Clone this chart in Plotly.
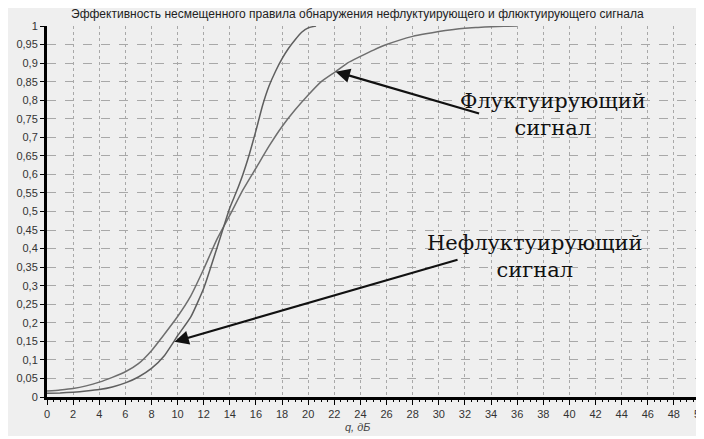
import plotly.graph_objects as go

# --- data ---
q_nonfluct = [0, 1, 2, 3, 4, 5, 6, 7, 8, 9, 9.76, 10, 11, 12, 13, 14, 14.5, 15, 15.5, 16, 16.5, 17, 17.5, 18, 18.5, 19, 19.5, 20, 20.6]
p_nonfluct = [0.010, 0.011, 0.013, 0.016, 0.020, 0.027, 0.038, 0.054, 0.077, 0.112, 0.152, 0.165, 0.215, 0.293, 0.400, 0.510, 0.553, 0.600, 0.655, 0.718, 0.785, 0.838, 0.878, 0.912, 0.940, 0.963, 0.983, 0.995, 1.000]

q_fluct = [0, 1, 2, 3, 4, 5, 6, 7, 8, 9, 10, 11, 12, 13, 14, 15, 16, 17, 18, 19, 20, 21, 22.1, 23, 24, 25, 26, 27, 28, 29, 30, 31, 32, 33, 34, 35, 36]
p_fluct = [0.016, 0.019, 0.023, 0.030, 0.040, 0.053, 0.068, 0.090, 0.125, 0.170, 0.217, 0.272, 0.345, 0.424, 0.490, 0.558, 0.617, 0.676, 0.729, 0.774, 0.814, 0.850, 0.877, 0.900, 0.918, 0.935, 0.950, 0.962, 0.972, 0.979, 0.985, 0.990, 0.994, 0.996, 0.998, 0.999, 1.000]

x_tick_vals = list(range(0, 51, 2))
x_tick_text = [str(v) for v in x_tick_vals]
y_tick_vals = [i * 0.05 for i in range(21)]
y_tick_text = ["0", "0,05", "0,1", "0,15", "0,2", "0,25", "0,3", "0,35", "0,4", "0,45", "0,5",
               "0,55", "0,6", "0,65", "0,7", "0,75", "0,8", "0,85", "0,9", "0,95", "1"]

title_text = "Эффективность несмещенного правила обнаружения нефлуктуирующего и флюктуирующего сигнала"
x_title = "q, дБ"

# arrows: (tip x, tip y, tail x, tail y)
arrow_fluct = (22.1, 0.877, 33.2, 0.763)
arrow_nonfluct = (9.76, 0.149, 31.55, 0.371)
label_fluct = "Флуктуирующий<br>сигнал"
label_nonfluct = "Нефлуктуирующий<br>сигнал"

BG = "#efefef"
SERIF = "DejaVu Serif"
SANS = "Liberation Sans, Arial, sans-serif"

# the page shows the figure with an 8 px body offset; positions below are screen pixels
OFF = 8
W, H = 704, 428
plot_left, plot_right, plot_top, plot_bottom = 47, 700, 26, 397
ml = plot_left - OFF
mt = plot_top - OFF
mr = W - (plot_right - OFF)
mb = H - (plot_bottom - OFF)
pw, ph = W - ml - mr, H - mt - mb


def px_to_paper(xs, ys):
    xf, yf = xs - OFF, ys - OFF
    return (xf - ml) / pw, 1 - (yf - mt) / ph


fig = go.Figure()
fig.add_trace(go.Scatter(x=q_fluct, y=p_fluct, mode="lines", line_shape="spline",
                         line=dict(color="#6e6e6e", width=1.5, smoothing=0.5), showlegend=False))
fig.add_trace(go.Scatter(x=q_nonfluct, y=p_nonfluct, mode="lines", line_shape="spline",
                         line=dict(color="#5e5e5e", width=1.5, smoothing=0.5), showlegend=False))

for tx, ty, sx, sy in (arrow_fluct, arrow_nonfluct):
    fig.add_annotation(x=tx, y=ty, ax=sx, ay=sy, xref="x", yref="y", axref="x", ayref="y",
                       showarrow=True, arrowhead=2, arrowsize=1.3, arrowwidth=2.2,
                       arrowcolor="#111111", text="", standoff=0)

lx, ly = px_to_paper(553, 114)
fig.add_annotation(x=lx, y=ly, xref="paper", yref="paper", text=label_fluct, showarrow=False,
                   font=dict(family=SERIF, size=21, color="#111111"), align="center",
                   xanchor="center", yanchor="middle")
lx, ly = px_to_paper(535, 256)
fig.add_annotation(x=lx, y=ly, xref="paper", yref="paper", text=label_nonfluct, showarrow=False,
                   font=dict(family=SERIF, size=21, color="#111111"), align="center",
                   xanchor="center", yanchor="middle")

# x-axis title placed as text
lx, ly = px_to_paper(357, 427)
fig.add_annotation(x=lx, y=ly, xref="paper", yref="paper", text="<i>" + x_title + "</i>",
                   showarrow=False, font=dict(family=SANS, size=11, color="#444444"),
                   xanchor="center", yanchor="middle")

# title placed as text
lx, ly = px_to_paper(357, 14)
fig.add_annotation(x=lx, y=ly, xref="paper", yref="paper", text=title_text,
                   showarrow=False, font=dict(family=SANS, size=12, color="#222222"),
                   xanchor="center", yanchor="middle")

fig.update_layout(
    width=W, height=H,
    margin=dict(l=ml, r=mr, t=mt, b=mb, autoexpand=False),
    paper_bgcolor=BG,
    plot_bgcolor=BG,
    font=dict(family=SANS, size=11, color="#333333"),
    xaxis=dict(range=[0, 50], tickvals=x_tick_vals, ticktext=x_tick_text, automargin=False,
               showgrid=True, gridcolor="#a8a8a8", griddash="dot", gridwidth=1,
               showline=True, linecolor="#000000", linewidth=3,
               ticks="outside", ticklen=5, tickcolor="#000000",
               minor=dict(dtick=0.5, ticks="outside", ticklen=2, tickcolor="#000000", showgrid=False),
               zeroline=False, tickfont=dict(family=SANS, size=11, color="#333333")),
    yaxis=dict(range=[0, 1], tickvals=y_tick_vals, ticktext=y_tick_text, automargin=False,
               showgrid=True, gridcolor="#a8a8a8", griddash="dash", gridwidth=1,
               showline=True, linecolor="#000000", linewidth=3,
               ticks="outside", ticklen=4, tickcolor="#000000",
               zeroline=False, tickfont=dict(family=SANS, size=11, color="#333333")),
)

fig.write_html("out.html")
